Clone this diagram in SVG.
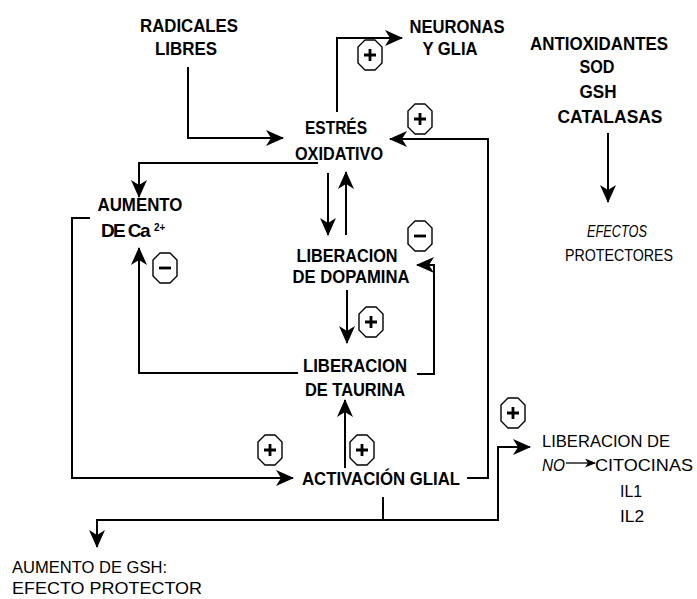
<svg xmlns="http://www.w3.org/2000/svg" width="697" height="599" viewBox="0 0 697 599">
<style>
text{font-family:"Liberation Sans",Arial,sans-serif;fill:#000}
.b{font-size:19px;font-weight:bold;text-anchor:middle}
.r{font-size:17px;text-anchor:middle}
.c{fill:none;stroke:#000;stroke-width:2}
.oct{fill:#fff;stroke:#000;stroke-width:1.4;stroke-linejoin:round}
.sg{stroke:#000;stroke-width:2.8;fill:none}
</style>
<defs>
<marker id="ah" markerUnits="userSpaceOnUse" markerWidth="18" markerHeight="16" refX="17" refY="8" orient="auto">
<path d="M0,0 L18,8 L0,16 L5,8 z" fill="#000"/>
</marker>
<marker id="ahs" markerUnits="userSpaceOnUse" markerWidth="11" markerHeight="9" refX="10" refY="4.5" orient="auto">
<path d="M0,0 L11,4.5 L0,9 L3,4.5 z" fill="#000"/>
</marker>
<g id="plus"><polygon class="oct" points="-5,-15 5,-15 12,-8 12,8 5,15 -5,15 -12,8 -12,-8"/><path class="sg" d="M-6,0 H6 M0,-6 V6"/></g>
<g id="minus"><polygon class="oct" points="-5,-15 5,-15 12,-8 12,8 5,15 -5,15 -12,8 -12,-8"/><path class="sg" d="M-6,0 H6"/></g>
</defs>

<g id="connectors">
<path class="c" d="M188,67 V138 H283" marker-end="url(#ah)"/>
<path class="c" d="M337,112 V38 H402" marker-end="url(#ah)"/>
<path class="c" d="M318,163 H139 V197" marker-end="url(#ah)"/>
<path class="c" d="M328,173 V235" marker-end="url(#ah)"/>
<path class="c" d="M346,235 V172" marker-end="url(#ah)"/>
<path class="c" d="M347,290 V343" marker-end="url(#ah)"/>
<path class="c" d="M298,373 H139 V248" marker-end="url(#ah)"/>
<path class="c" d="M417,374 H434 V265 H417" marker-end="url(#ah)"/>
<path class="c" d="M90,218 H72 V478 H293" marker-end="url(#ah)"/>
<path class="c" d="M345,468 V400" marker-end="url(#ah)"/>
<path class="c" d="M467,478 H488 V139 H390" marker-end="url(#ah)"/>
<path class="c" d="M383,497 V520 H97 V547" marker-end="url(#ah)"/>
<path class="c" d="M383,520 H498 V447 H530" marker-end="url(#ah)"/>
<path class="c" d="M608,133 V202" marker-end="url(#ah)"/>
<path class="c" style="stroke-width:1.3" d="M566,463 H595" marker-end="url(#ahs)"/>
</g>

<g id="signs">
<use href="#plus" x="370" y="55"/>
<use href="#plus" x="420" y="119"/>
<use href="#minus" x="165" y="268"/>
<use href="#minus" x="420" y="236"/>
<use href="#plus" x="371" y="322"/>
<use href="#plus" x="270" y="450"/>
<use href="#plus" x="362" y="450"/>
<use href="#plus" x="513" y="413"/>
</g>

<g id="radicales"><text class="b" x="189" y="32" textLength="98" lengthAdjust="spacingAndGlyphs">RADICALES</text><text class="b" x="186" y="55" textLength="62" lengthAdjust="spacingAndGlyphs">LIBRES</text></g>
<g id="neuronas"><text class="b" x="457" y="33" textLength="95" lengthAdjust="spacingAndGlyphs">NEURONAS</text><text class="b" x="450" y="55" textLength="55" lengthAdjust="spacingAndGlyphs">Y GLIA</text></g>
<g id="antioxidantes"><text class="b" x="599" y="50" textLength="138" lengthAdjust="spacingAndGlyphs">ANTIOXIDANTES</text><text class="b" x="597" y="73" textLength="35" lengthAdjust="spacingAndGlyphs">SOD</text><text class="b" x="598" y="98" textLength="37" lengthAdjust="spacingAndGlyphs">GSH</text><text class="b" x="610" y="123" textLength="105" lengthAdjust="spacingAndGlyphs">CATALASAS</text></g>
<g id="efectos"><text class="r" x="617" y="237" font-style="italic" textLength="60" lengthAdjust="spacingAndGlyphs">EFECTOS</text><text class="r" x="619" y="261" textLength="108" lengthAdjust="spacingAndGlyphs">PROTECTORES</text></g>
<g id="estres"><text class="b" x="336" y="134" textLength="62" lengthAdjust="spacingAndGlyphs">ESTRÉS</text><text class="b" x="339" y="160" textLength="88" lengthAdjust="spacingAndGlyphs">OXIDATIVO</text></g>
<g id="calcio"><text class="b" x="140" y="211" textLength="85" lengthAdjust="spacingAndGlyphs">AUMENTO</text><text x="101" y="237" style="font-size:19px;font-weight:bold;letter-spacing:-1.6px">DE Ca</text><text x="154" y="231" style="font-size:10px;font-weight:bold">2+</text></g>
<g id="dopamina"><text class="b" x="347" y="262" textLength="101" lengthAdjust="spacingAndGlyphs">LIBERACION</text><text class="b" x="351" y="283" textLength="117" lengthAdjust="spacingAndGlyphs">DE DOPAMINA</text></g>
<g id="taurina"><text class="b" x="355" y="372" textLength="104" lengthAdjust="spacingAndGlyphs">LIBERACION</text><text class="b" x="355" y="396" textLength="100" lengthAdjust="spacingAndGlyphs">DE TAURINA</text></g>
<g id="activacion"><text class="b" x="381" y="485" textLength="158" lengthAdjust="spacingAndGlyphs">ACTIVACIÓN GLIAL</text></g>
<g id="liberacion-no"><text class="r" x="606" y="447" textLength="128" lengthAdjust="spacingAndGlyphs">LIBERACION DE</text><text x="542" y="471" style="font-size:17px;font-style:italic" textLength="23" lengthAdjust="spacingAndGlyphs">NO</text><text class="r" x="644" y="471" textLength="98" lengthAdjust="spacingAndGlyphs">CITOCINAS</text><text class="r" x="631" y="497" textLength="22" lengthAdjust="spacingAndGlyphs">IL1</text><text class="r" x="632" y="522" textLength="24" lengthAdjust="spacingAndGlyphs">IL2</text></g>
<g id="gsh"><text x="12" y="573" style="font-size:17px" textLength="155" lengthAdjust="spacingAndGlyphs">AUMENTO DE GSH:</text><text x="12" y="594" style="font-size:17px" textLength="190" lengthAdjust="spacingAndGlyphs">EFECTO PROTECTOR</text></g>
</svg>
